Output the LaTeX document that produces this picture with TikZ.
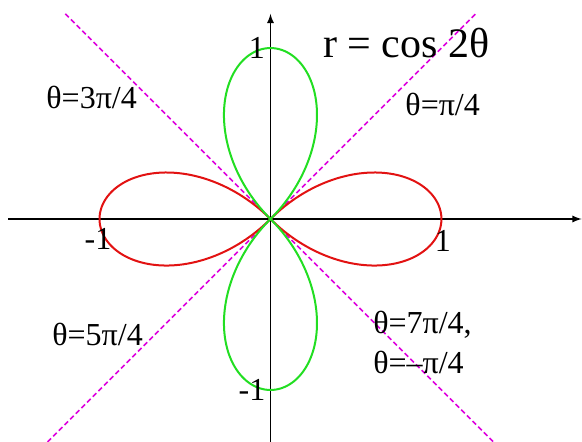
\documentclass[tikz,border=0pt]{standalone}
\usepackage{tikz}
\usetikzlibrary{positioning,arrows}
\usepackage{fontspec}
\setmainfont{Liberation Serif}
\definecolor{petalred}{RGB}{226,18,18}
\definecolor{petalgreen}{RGB}{34,222,34}
\definecolor{raymagenta}{RGB}{222,0,222}
\tikzstyle{axis} = [draw, line width=0.6pt, ->, >=latex]
\tikzstyle{ray} = [draw=raymagenta, line width=0.8pt, dash pattern=on 2.5pt off 1.5pt]
\tikzstyle{petal} = [line width=1pt, smooth, samples=120]
\tikzstyle{lbl} = [inner sep=0pt, align=left, font=\rmfamily\fontsize{16}{19}\selectfont]

\begin{document}
\begin{tikzpicture}[x=85.5pt, y=85.5pt]
\useasboundingbox (-1.582,-1.304) rectangle (1.822,1.281);
% axes
\coordinate (xl) at (-1.535,0);
\coordinate (xr) at (1.82,0);
\coordinate (yb) at (0,-1.304);
\coordinate (yt) at (0,1.2);
\draw[axis] (xl) -- (xr);
\draw[axis] (yb) -- (yt);
% lines through the origin
\coordinate (r1) at (1.2,1.2);
\coordinate (r5) at (-1.304,-1.304);
\coordinate (r3) at (-1.2,1.2);
\coordinate (r7) at (1.304,-1.304);
\draw[ray] (r5) -- (r1);
\draw[ray] (r3) -- (r7);
% rose
\draw[petal, petalred] plot[domain=-45:45] ({cos(2*\x)*cos(\x)},{cos(2*\x)*sin(\x)});
\draw[petal, petalred] plot[domain=135:225] ({cos(2*\x)*cos(\x)},{cos(2*\x)*sin(\x)});
\draw[petal, petalgreen] plot[domain=45:135] ({cos(2*\x)*cos(\x)},{cos(2*\x)*sin(\x)});
\draw[petal, petalgreen] plot[domain=225:315] ({cos(2*\x)*cos(\x)},{cos(2*\x)*sin(\x)});
% texts
\node[lbl, anchor=base west, font=\rmfamily\fontsize{21}{25}\selectfont] (title) at (0.307,0.947) {r = cos 2θ};
\node[lbl, anchor=base west] (q3) at (-1.313,0.649) {θ=3π/4};
\node[lbl, anchor=base west] (q1) at (0.787,0.608) {θ=π/4};
\node[lbl, anchor=base west] (q5) at (-1.278,-0.737) {θ=5π/4};
\node[lbl, anchor=base west] (q7) at (0.599,-0.667) {θ=7π/4,};
\node[lbl, anchor=base west] (q7b) at (0.599,-0.901) {θ=–π/4};
\node[lbl] (ytop) at (-0.079,1.0) {1};
\node[lbl] (xleft) at (-1.009,-0.117) {-1};
\node[lbl] (xright) at (1.009,-0.129) {1};
\node[lbl] (ybot) at (-0.108,-1.0) {-1};
\end{tikzpicture}
\end{document}
